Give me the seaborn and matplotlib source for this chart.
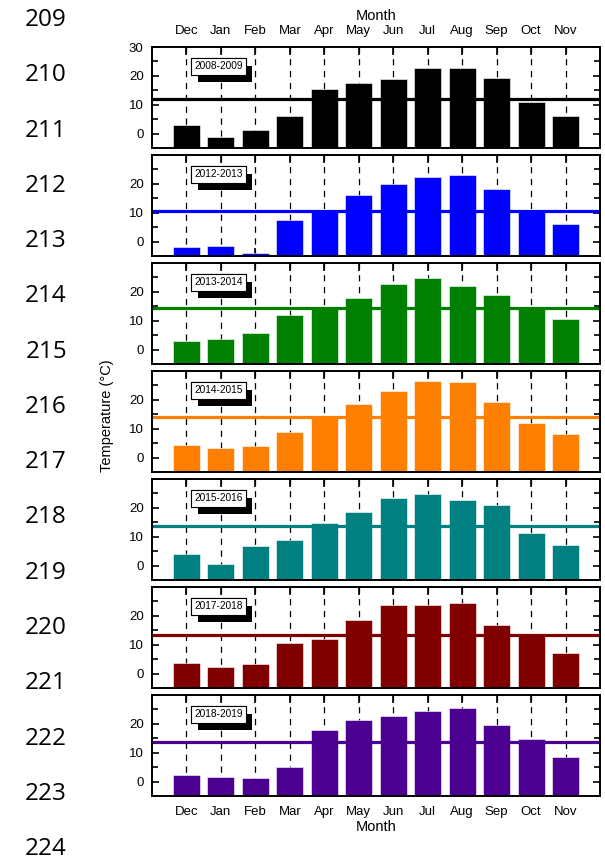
import numpy as np
import matplotlib
matplotlib.use("Agg")
import matplotlib.pyplot as plt
import matplotlib.patheffects as pe
import seaborn as sns

# ── Data ─────────────────────────────────────────────────────────────────────
MONTHS = ["Dec", "Jan", "Feb", "Mar", "Apr", "May", "Jun",
          "Jul", "Aug", "Sep", "Oct", "Nov"]
PERIODS = ["2008-2009", "2012-2013", "2013-2014", "2014-2015",
           "2015-2016", "2017-2018", "2018-2019"]
COLORS = ["#000000", "#0000FF", "#008000", "#FF8000",
          "#008080", "#800000", "#4B0091"]

T_2008 = [3.0, -1.1, 1.3, 6.0, 15.5, 17.6, 19.0, 22.8, 22.6, 19.1, 11.0, 6.1]
T_2012 = [-2.0, -1.6, -4.1, 7.4, 10.9, 16.3, 20.0, 22.4, 22.9, 18.1, 10.8, 6.0]
T_2013 = [3.1, 3.7, 5.9, 11.9, 14.6, 17.8, 22.7, 24.7, 21.9, 18.9, 14.6, 10.6]
T_2014 = [4.4, 3.2, 4.1, 8.9, 14.3, 18.4, 23.0, 26.4, 26.1, 19.3, 12.1, 8.3]
T_2015 = [3.9, 0.4, 6.9, 8.9, 14.7, 18.5, 23.4, 24.7, 22.7, 20.9, 11.3, 7.3]
T_2017 = [3.6, 2.4, 3.2, 10.6, 12.0, 18.4, 23.7, 23.7, 24.5, 16.9, 13.6, 7.2]
T_2018 = [2.4, 1.5, 1.4, 4.9, 17.7, 21.3, 22.8, 24.3, 25.4, 19.5, 14.9, 8.6]
SERIES = [T_2008, T_2012, T_2013, T_2014, T_2015, T_2017, T_2018]

MEANS = [12.0, 10.5, 14.4, 13.9, 13.6, 13.3, 13.7]

LINE_NUMBERS = [209, 210, 211, 212, 213, 214, 215, 216,
                217, 218, 219, 220, 221, 222, 223, 224]

# ── Style ────────────────────────────────────────────────────────────────────
YMIN, YMAX = -5, 30
FLOOR = -6                     # bars rise from below the axis floor
W, H, DPI = 605, 860, 100

sns.set_style("ticks")
plt.rcParams["font.family"] = ["Liberation Sans", "DejaVu Sans"]
plt.rcParams["axes.linewidth"] = 1.4
for key in ("text.color", "axes.labelcolor", "xtick.color", "ytick.color"):
    plt.rcParams[key] = "black"


def draw_panel(ax, vals, mean, color, period):
    for i in range(len(MONTHS)):
        ax.axvline(i, color="black", lw=0.9, ls=(0, (5, 4.5)), zorder=0.5)

    heights = [v - FLOOR for v in vals]
    sns.barplot(x=MONTHS, y=heights, bottom=FLOOR, color=color,
                saturation=1, width=0.78, edgecolor="white", linewidth=0.4,
                ax=ax, zorder=1)
    ax.axhline(mean, color=color, lw=2.3, zorder=2.5)

    ax.set_xlim(-1, 12)
    ax.set_ylim(YMIN, YMAX)
    ax.set_xlabel("")
    ax.set_ylabel("")
    ax.set_yticks([0, 10, 20, 30])
    ax.set_yticks([5, 15, 25], minor=True)
    ax.tick_params(axis="both", which="both", direction="in",
                   top=True, right=True, labelsize=9.5, width=1.2)
    ax.tick_params(axis="y", which="major", length=5, pad=6)
    ax.tick_params(axis="y", which="minor", length=4)
    ax.tick_params(axis="x", which="major", length=6, pad=7)
    for s in ax.spines.values():
        s.set_visible(True)
        s.set_color("black")

    # boxed period label with a hard black drop shadow
    t = ax.text(0.148, 0.807, period, transform=ax.transAxes, fontsize=7.3,
                ha="center", va="center", color="black", zorder=5,
                bbox=dict(boxstyle="square,pad=0.3", fc="white", ec="black",
                          lw=0.8))
    t.get_bbox_patch().set_path_effects([
        pe.withSimplePatchShadow(offset=(4.7, -5.4), shadow_rgbFace="black",
                                 alpha=1.0),
        pe.Normal(),
    ])


fig, axes = plt.subplots(7, 1, figsize=(W / DPI, H / DPI), dpi=DPI, sharex=False)
fig.subplots_adjust(left=152 / W, right=600 / W, top=1 - 47 / H,
                    bottom=1 - 796 / H, hspace=0.069)

for k, ax in enumerate(axes):
    draw_panel(ax, SERIES[k], MEANS[k], COLORS[k], PERIODS[k])
    if k > 0:
        ax.set_yticklabels(["0", "10", "20", ""])
    if k == 0:
        ax.tick_params(axis="x", labeltop=True, labelbottom=False)
        ax.xaxis.set_label_position("top")
        ax.set_xlabel("Month", fontsize=10.5, labelpad=4)
    elif k == len(axes) - 1:
        ax.tick_params(axis="x", labeltop=False, labelbottom=True)
        ax.set_xlabel("Month", fontsize=10.5, labelpad=2)
    else:
        ax.tick_params(axis="x", labeltop=False, labelbottom=False)

fig.text(107 / W, 1 - 416 / H, "Temperature (°C)", rotation=90,
         ha="center", va="center", fontsize=10.5)

# manuscript line numbers down the left margin
for i, n in enumerate(LINE_NUMBERS):
    fig.text(67 / W, 1 - (20 + i * 55.27) / H, str(n), ha="right",
             va="center", fontsize=17.5, family=["Open Sans", "DejaVu Sans"])

fig.savefig("out.png", dpi=DPI, facecolor="white")
